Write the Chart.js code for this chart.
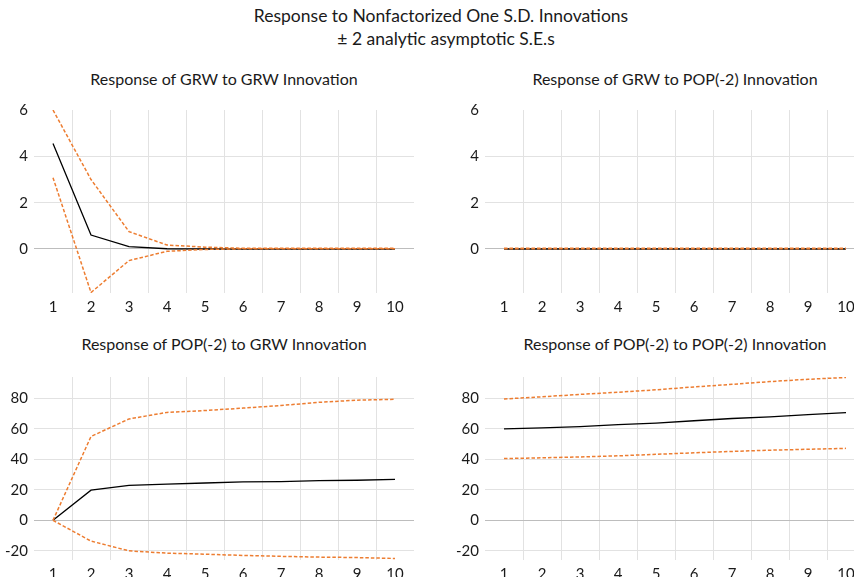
<!DOCTYPE html>
<html>
<head>
<meta charset="utf-8">
<script src="https://cdn.jsdelivr.net/npm/chart.js@4.4.1/dist/chart.umd.min.js"></script>
<style>
    body {
        margin: 0;
        width: 854px;
        height: 577px;
        overflow: hidden;
        position: relative;
        background: #fff;
        font-family: Lato, "Open Sans", sans-serif;
        color: #1a1a1a;
    }
    .main-title {
        position: absolute;
        left: 0;
        width: 882px;
        text-align: center;
        font-size: 17.5px;
        line-height: 22px;
    }
    .panel-title {
        position: absolute;
        width: 380px;
        text-align: center;
        font-size: 16px;
        line-height: 20px;
    }
    canvas {
        position: absolute;
    }
</style>
</head>
<body>
<div class="main-title" style="top: 5px;">Response to Nonfactorized One S.D. Innovations</div>
<div class="main-title" style="top: 28px; left: 9px; width: 874px;">± 2 analytic asymptotic S.E.s</div>

<div class="panel-title" style="left: 34px; top: 69px;">Response of GRW to GRW Innovation</div>
<div class="panel-title" style="left: 485px; top: 69px;">Response of GRW to POP(-2) Innovation</div>
<div class="panel-title" style="left: 34px; top: 334px;">Response of POP(-2) to GRW Innovation</div>
<div class="panel-title" style="left: 485px; top: 334px;">Response of POP(-2) to POP(-2) Innovation</div>

<canvas id="grw-grw" width="414" height="225" style="left: 0; top: 95px;"></canvas>
<canvas id="grw-pop" width="414" height="225" style="left: 451px; top: 95px;"></canvas>
<canvas id="pop-grw" width="414" height="225" style="left: 0; top: 362px;"></canvas>
<canvas id="pop-pop" width="414" height="225" style="left: 451px; top: 362px;"></canvas>

<script>
const periods = ['1', '2', '3', '4', '5', '6', '7', '8', '9', '10'];
const grwTicks = [0, 2, 4, 6];
const popTicks = [-20, 0, 20, 40, 60, 80];

// Response of GRW to GRW
const grwGrw = [4.55, 0.6, 0.1, 0.01, 0, 0, 0, 0, 0, 0];
const grwGrwUpper = [6.0, 3.0, 0.75, 0.17, 0.08, 0.03, 0.03, 0.03, 0.03, 0.03];
const grwGrwLower = [3.08, -1.88, -0.5, -0.1, -0.02, 0.01, 0.01, 0.01, 0.01, 0.01];

// Response of GRW to POP(-2)
const grwPop = [0, 0, 0, 0, 0, 0, 0, 0, 0, 0];
const grwPopUpper = [0.03, 0.03, 0.03, 0.03, 0.03, 0.03, 0.03, 0.03, 0.03, 0.03];
const grwPopLower = [0.01, 0.01, 0.01, 0.01, 0.01, 0.01, 0.01, 0.01, 0.01, 0.01];

// Response of POP(-2) to GRW
const popGrw = [0, 19.8, 22.9, 23.8, 24.5, 25.2, 25.4, 26.1, 26.3, 26.9];
const popGrwUpper = [0, 55, 66.5, 70.8, 72, 73.6, 75.3, 77.4, 78.8, 79.4];
const popGrwLower = [0, -13.6, -20, -21.5, -22.2, -23, -23.6, -24.1, -24.4, -25];

// Response of POP(-2) to POP(-2)
const popPop = [60, 60.7, 61.5, 62.8, 63.8, 65.3, 66.8, 67.8, 69.3, 70.6];
const popPopUpper = [79.6, 81, 82.6, 84, 85.6, 87.5, 89.2, 91, 92.5, 93.7];
const popPopLower = [40.5, 41, 41.6, 42.3, 43.3, 44.3, 45.2, 46, 46.6, 47.2];

const orange = '#ed7d31';
const gridColor = '#e2e2e2';
const zeroColor = '#bdbdbd';

function initIrfChart(id, response, upper, lower, yMin, yMax, yTicks) {
    const ctx = document.getElementById(id).getContext('2d');

    const band = (data) => ({
        data,
        borderColor: orange,
        borderWidth: 1.5,
        borderDash: [3.5, 2],
        pointRadius: 0,
        tension: 0,
        fill: false,
    });

    return new Chart(ctx, {
        type: 'line',
        data: {
            labels: periods,
            datasets: [
                band(upper),
                band(lower),
                {
                    data: response,
                    borderColor: '#000',
                    borderWidth: 1.3,
                    pointRadius: 0,
                    tension: 0,
                    fill: false,
                },
            ],
        },
        options: {
            responsive: false,
            animation: false,
            events: [],
            layout: {
                padding: { top: 15, left: 0, right: 0, bottom: 0 },
            },
            plugins: {
                legend: { display: false },
                tooltip: { enabled: false },
            },
            scales: {
                x: {
                    offset: true,
                    afterFit(scale) {
                        scale.height = 27;
                    },
                    border: { display: false },
                    grid: {
                        offset: true,
                        drawTicks: false,
                        lineWidth: 1,
                        color(context) {
                            if (context.index === undefined || context.index === 0) {
                                return 'transparent';
                            }
                            return gridColor;
                        },
                    },
                    ticks: {
                        padding: 5,
                        color: '#1a1a1a',
                        maxRotation: 0,
                        autoSkip: false,
                        font: { family: 'Lato', size: 15 },
                    },
                },
                y: {
                    min: yMin,
                    max: yMax,
                    afterFit(scale) {
                        scale.width = 34;
                    },
                    afterBuildTicks(scale) {
                        scale.ticks = yTicks.map((value) => ({ value }));
                    },
                    border: { display: false },
                    grid: {
                        drawTicks: false,
                        lineWidth: 1,
                        color(context) {
                            const value = context.tick?.value;
                            if (value === 0) {
                                return zeroColor;
                            }
                            if (value === yMax) {
                                return 'transparent';
                            }
                            return gridColor;
                        },
                    },
                    ticks: {
                        padding: 6,
                        color: '#1a1a1a',
                        font: { family: 'Lato', size: 15 },
                    },
                },
            },
        },
    });
}

initIrfChart('grw-grw', grwGrw, grwGrwUpper, grwGrwLower, -1.9, 6, grwTicks);
initIrfChart('grw-pop', grwPop, grwPopUpper, grwPopLower, -1.9, 6, grwTicks);
initIrfChart('pop-grw', popGrw, popGrwUpper, popGrwLower, -26, 94, popTicks);
initIrfChart('pop-pop', popPop, popPopUpper, popPopLower, -26, 94, popTicks);
</script>
</body>
</html>
